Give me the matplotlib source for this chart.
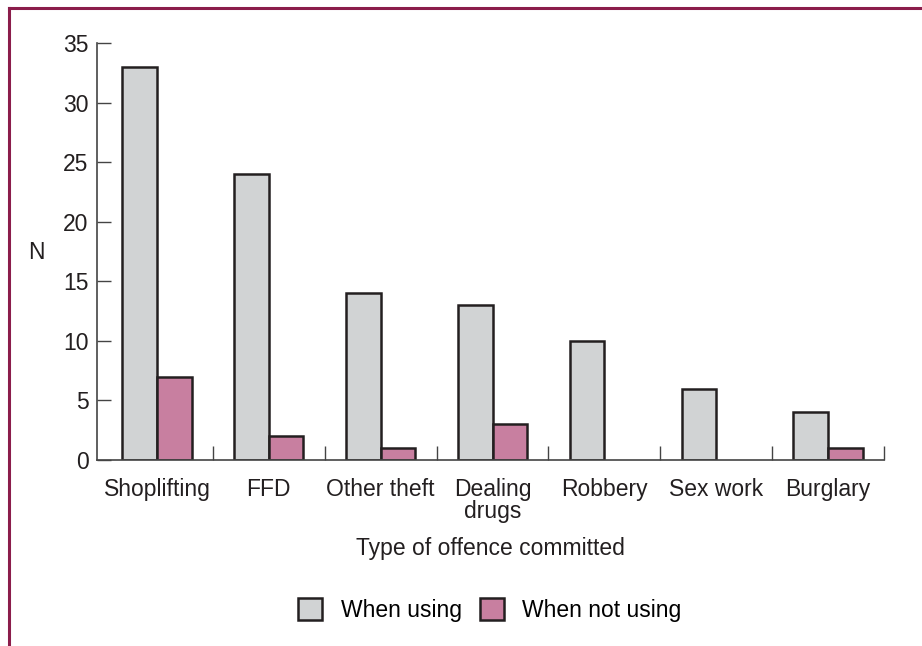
import numpy as np
import matplotlib
matplotlib.use('Agg')
import matplotlib.pyplot as plt
from matplotlib.lines import Line2D
from matplotlib.patches import Patch

# categories and values
offences = ['Shoplifting', 'FFD', 'Other theft', 'Dealing\ndrugs', 'Robbery', 'Sex work', 'Burglary']
when_using = [33, 24, 14, 13, 10, 6, 4]
when_not_using = [7, 2, 1, 3, 0, 0, 1]

gray = '#d1d3d4'
pink = '#c87fa0'
edge = '#231f20'
frame_col = '#8b1d4b'
fs = 16.5

plt.rcParams['font.family'] = ['Liberation Sans', 'DejaVu Sans']

fig = plt.figure(figsize=(9.22, 6.46), dpi=100)
ax = fig.add_axes([97 / 922, 1 - 460 / 646, (884 - 97) / 922, (460 - 43) / 646])

x = np.arange(len(offences))
w = 0.31
ax.bar(x - w / 2, when_using, w, color=gray, edgecolor=edge, linewidth=1.8, label='When using')
nz = [v if v > 0 else np.nan for v in when_not_using]
ax.bar(x + w / 2, nz, w, color=pink, edgecolor=edge, linewidth=1.8, label='When not using')

# first group starts a few pixels right of the y axis
ax.set_xlim(-0.536, len(offences) - 0.5)
ax.set_ylim(0, 35)
ax.set_yticks(range(0, 36, 5))
ax.set_xticks(x)
ax.set_xticklabels(offences, fontsize=fs, color='#231f20', linespacing=0.95)
ax.set_xticks(np.arange(0.5, len(offences), 1), minor=True)
ax.tick_params(axis='x', which='major', length=0, pad=13)
ax.tick_params(axis='x', which='minor', direction='in', length=10, width=1, color='#444444')
ax.tick_params(axis='y', direction='in', length=10, width=1, color='#444444', labelsize=fs, pad=6,
               labelcolor='#231f20')
for s in ['top', 'right']:
    ax.spines[s].set_visible(False)
for s in ['left', 'bottom']:
    ax.spines[s].set_color('#444444')
    ax.spines[s].set_linewidth(1.2)

fig.text(36 / 922, 1 - 252 / 646, 'N', fontsize=fs, ha='center', va='center', color='#231f20')
fig.text(490 / 922, 1 - 548 / 646, 'Type of offence committed', fontsize=fs, ha='center', va='center',
         color='#231f20')

handles = [Patch(facecolor=gray, edgecolor=edge, linewidth=1.8),
           Patch(facecolor=pink, edgecolor=edge, linewidth=1.8)]
fig.legend(handles, ['When using', 'When not using'], loc='center', bbox_to_anchor=(490 / 922, 1 - 610 / 646),
           ncol=2, frameon=False, fontsize=fs, handlelength=1.05, handleheight=1.05, handletextpad=0.8,
           columnspacing=0.8, borderaxespad=0, borderpad=0)

# frame lines on the top and left of the figure
fig.add_artist(Line2D([9 / 922, 1], [1 - 8 / 646, 1 - 8 / 646], color=frame_col, linewidth=2.2,
                      transform=fig.transFigure))
fig.add_artist(Line2D([9 / 922, 9 / 922], [0, 1 - 8 / 646], color=frame_col, linewidth=2.2,
                      transform=fig.transFigure))

fig.savefig('out.png', dpi=100)
